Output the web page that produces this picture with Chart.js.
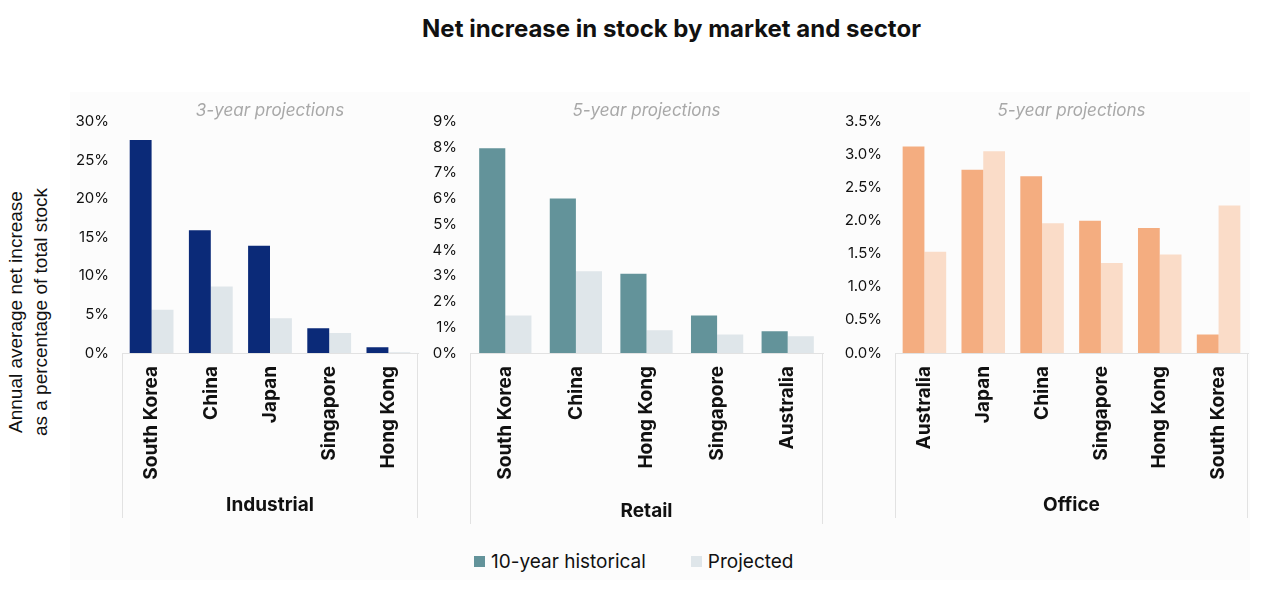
<!DOCTYPE html>
<html>
<head>
<meta charset="utf-8">
<script src="https://cdn.jsdelivr.net/npm/chart.js@4.4.1/dist/chart.umd.min.js"></script>
<style>
  body { margin: 0; width: 1283px; height: 591px; background: #fff; font-family: Inter, sans-serif; position: relative; overflow: hidden; }
  #title { position: absolute; left: 60px; width: 1223px; top: 14px; text-align: center; font-weight: 700; font-size: 24px; color: #111; }
  #panel { position: absolute; left: 70px; top: 92px; width: 1180px; height: 488px; background: #fcfcfc; }
  #ytitle { position: absolute; left: 28px; top: 312px; transform: translate(-50%, -50%) rotate(-90deg); font-family: "Liberation Sans", Arial, sans-serif; font-size: 19px; line-height: 25px; color: #111; text-align: center; white-space: nowrap; }
  .cv { position: absolute; }
  #legend { position: absolute; top: 550px; left: 474px; font-size: 19px; color: #111; display: flex; align-items: center; }
  #legend span.sw { display: inline-block; width: 11px; height: 11px; margin-right: 6px; }
</style>
</head>
<body>
<div id="panel"></div>
<div id="title">Net increase in stock by market and sector</div>
<div id="ytitle">Annual average net increase<br>as a percentage of total stock</div>
<canvas id="indChart" class="cv" style="left:60px;top:95px;width:362px;height:423px" width="362" height="423"></canvas>
<canvas id="retChart" class="cv" style="left:420px;top:95px;width:407px;height:429px" width="407" height="429"></canvas>
<canvas id="offChart" class="cv" style="left:840px;top:95px;width:412px;height:423px" width="412" height="423"></canvas>
<div id="legend">
  <span class="sw" style="background:#63939a"></span><span>10-year historical</span>
  <span class="sw" style="background:#dfe6ea;margin-left:45px"></span><span>Projected</span>
</div>
<script>
const industrialMarkets = ["South Korea", "China", "Japan", "Singapore", "Hong Kong"];
const industrialHistorical = [27.6, 15.9, 13.9, 3.2, 0.75];
const industrialProjected = [5.6, 8.6, 4.5, 2.6, 0.1];

const retailMarkets = ["South Korea", "China", "Hong Kong", "Singapore", "Australia"];
const retailHistorical = [7.96, 6.0, 3.08, 1.46, 0.85];
const retailProjected = [1.46, 3.18, 0.88, 0.72, 0.65];

const officeMarkets = ["Australia", "Japan", "China", "Singapore", "Hong Kong", "South Korea"];
const officeHistorical = [3.12, 2.77, 2.67, 2.0, 1.89, 0.28];
const officeProjected = [1.53, 3.05, 1.96, 1.36, 1.49, 2.23];

// side lines of the box under each x axis
const boxLines = {
    id: 'boxLines',
    afterDraw(chart) {
        const ctx = chart.ctx;
        const area = chart.chartArea;
        const x = chart.scales.x;
        ctx.save();
        ctx.strokeStyle = '#e2e2e2';
        ctx.lineWidth = 1;
        ctx.beginPath();
        ctx.moveTo(area.left + 0.5, area.bottom);
        ctx.lineTo(area.left + 0.5, x.bottom);
        ctx.moveTo(area.right - 0.5, area.bottom);
        ctx.lineTo(area.right - 0.5, x.bottom);
        ctx.stroke();
        ctx.restore();
    }
};

function makeChart(id, cfg) {
    const ctx = document.getElementById(id).getContext('2d');
    return new Chart(ctx, {
        type: 'bar',
        data: {
            labels: cfg.labels,
            datasets: [{
                label: '10-year historical',
                data: cfg.hist,
                backgroundColor: cfg.histColor
            }, {
                label: 'Projected',
                data: cfg.proj,
                backgroundColor: cfg.projColor
            }]
        },
        options: {
            responsive: false,
            animation: false,
            devicePixelRatio: 1,
            barPercentage: 1,
            categoryPercentage: 0.74,
            layout: { padding: { right: 4, bottom: 0, top: 0, left: 0 } },
            plugins: {
                legend: { display: false },
                tooltip: { enabled: false },
                title: {
                    display: true,
                    fullSize: false,
                    text: cfg.subtitle,
                    color: '#a8a8a8',
                    font: { size: 17, style: 'italic', weight: 'normal', family: 'Inter' },
                    padding: { top: 6, bottom: 0 }
                }
            },
            scales: {
                x: {
                    grid: { display: false },
                    border: { display: true, color: '#e2e2e2' },
                    ticks: {
                        minRotation: 90,
                        maxRotation: 90,
                        padding: 5,
                        color: '#111',
                        font: { size: 19, weight: 'bold', family: 'Inter' }
                    },
                    title: {
                        display: true,
                        text: cfg.sector,
                        color: '#111',
                        font: { size: 19, weight: 'bold', family: 'Inter' },
                        padding: { top: 4, bottom: 1 }
                    },
                    afterFit: (scale) => { scale.height = cfg.xHeight; }
                },
                y: {
                    min: 0,
                    max: cfg.max,
                    grid: { display: false },
                    border: { display: false },
                    ticks: {
                        stepSize: cfg.step,
                        padding: 5,
                        color: '#111',
                        font: { size: 15, family: 'Inter' },
                        callback: (v) => v.toFixed(cfg.decimals) + '%'
                    },
                    afterFit: (scale) => { scale.width = cfg.yWidth; }
                }
            }
        },
        plugins: [boxLines]
    });
}

makeChart('indChart', {
    labels: industrialMarkets, hist: industrialHistorical, proj: industrialProjected,
    histColor: '#0b2a78', projColor: '#dfe6ea',
    subtitle: '3-year projections', sector: 'Industrial',
    max: 30, step: 5, decimals: 0, yWidth: 62, xHeight: 165
});

makeChart('retChart', {
    labels: retailMarkets, hist: retailHistorical, proj: retailProjected,
    histColor: '#63939a', projColor: '#dfe6ea',
    subtitle: '5-year projections', sector: 'Retail',
    max: 9, step: 1, decimals: 0, yWidth: 50, xHeight: 171
});

makeChart('offChart', {
    labels: officeMarkets, hist: officeHistorical, proj: officeProjected,
    histColor: '#f4ad80', projColor: '#fadcc8',
    subtitle: '5-year projections', sector: 'Office',
    max: 3.5, step: 0.5, decimals: 1, yWidth: 55, xHeight: 165
});
</script>
</body>
</html>
